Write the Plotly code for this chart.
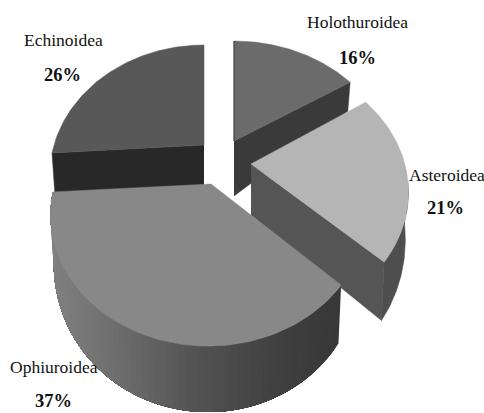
import numpy as np
import plotly.graph_objects as go

categories = ["Holothuroidea", "Asteroidea", "Ophiuroidea", "Echinoidea"]
percent = [16, 21, 37, 26]

# styling per slice (positions of exploded hubs, pixel space of the hidden axes)
hub_x = [234, 251, 211, 204]
hub_y = [141, 164, 184, 145]
rim_cx = [234, 251, 208, 204]
rim_cy = [141, 161, 184, 145]
radius_x = [155, 153, 153, 150]
hub_depth = [55, 51, 50, 40]
top_color = ["#6b6b6b", "#b5b5b5", "#888888", "#585858"]
wall_color = ["#3a3a3a", "#555555", "#444444", "#282828"]
rim_color = ["#3a3a3a", "#4e4e4e", None, "#282828"]
label_xy = [(357, 22), (447, 175), (54, 367), (63, 40)]
pct_xy = [(357, 58), (445, 208), (53, 401), (62, 75)]

A, B = 123.7, 0.237
D0, D1 = 42, 24
SHRINK = 0.98

edges = np.radians(np.concatenate([[0], np.cumsum(percent)]) * 3.6)


def rim(i, th):
    u, v = np.sin(th), np.cos(th)
    den = 1 + B * v
    return rim_cx[i] + radius_x[i] * u / den, rim_cy[i] - A * v / den


def lower(i, th):
    x, y = rim(i, th)
    return rim_cx[i] + (x - rim_cx[i]) * SHRINK, y + D0 - D1 * np.cos(th)


fig = go.Figure()


def poly(xs, ys, color, outline=True):
    fig.add_trace(go.Scatter(x=list(xs), y=list(ys), mode="lines" if outline else "none",
                             fill="toself", fillcolor=color,
                             line=dict(color=color, width=0.5),
                             hoverinfo="skip", showlegend=False))


def grad(x):
    stops_x = [53, 100, 200, 280, 340]
    stops_c = [128, 115, 82, 64, 56]
    g = int(np.interp(x, stops_x, stops_c))
    return f"rgb({g},{g},{g})"


def draw_slice(i, radial_edge):
    a, b = edges[i], edges[i + 1]
    th = np.linspace(a, b, 80)
    if radial_edge is not None:
        e = edges[radial_edge]
        rx, ry = rim(i, e)
        lx, ly = lower(i, e)
        poly([hub_x[i], rx, lx, hub_x[i]], [hub_y[i], ry, ly, hub_y[i] + hub_depth[i]], wall_color[i])
    if rim_color[i] is not None:
        vis = th[np.cos(th) < -0.15]
        if len(vis) > 1:
            xs, ys = rim(i, vis)
            xl, yl = lower(i, vis)
            poly(np.r_[xs, xl[::-1]], np.r_[ys, yl[::-1]], rim_color[i])
    else:
        # painter's order: each strip runs to the slice's far end, the next one covers it
        n = 70
        t = np.linspace(a, b, n + 1)
        for k in range(n):
            tt = np.linspace(t[k], b, max(2, 60 - k))
            xs, ys = rim(i, tt)
            xl, yl = lower(i, tt)
            c = rim(i, (t[k] + t[k + 1]) / 2)[0]
            poly(np.r_[xs, xl[::-1]], np.r_[ys, yl[::-1]], grad(c), outline=False)
    xs, ys = rim(i, th)
    poly(np.r_[hub_x[i], xs, hub_x[i]], np.r_[hub_y[i], ys, hub_y[i]], top_color[i])


draw_slice(3, 3)  # Echinoidea, wall along its first edge
draw_slice(0, 1)  # Holothuroidea
# thin dark side of the Holothuroidea slice along its first edge
x0, y0 = rim(0, edges[0])
fig.add_trace(go.Scatter(x=[x0, hub_x[0]], y=[y0, hub_y[0]], mode="lines",
                         line=dict(color=wall_color[0], width=1),
                         hoverinfo="skip", showlegend=False))
draw_slice(1, 2)  # Asteroidea
draw_slice(2, None)  # Ophiuroidea

for name, p, (lx, ly), (px, py) in zip(categories, percent, label_xy, pct_xy):
    fig.add_annotation(x=lx, y=ly, text=name, showarrow=False,
                       font=dict(family="Liberation Serif", size=17.5, color="#111111"))
    fig.add_annotation(x=px, y=py, text=f"<b>{p}%</b>", showarrow=False,
                       font=dict(family="Liberation Serif", size=18.5, color="#111111"))

fig.update_xaxes(range=[0, 484], visible=False, fixedrange=True)
fig.update_yaxes(range=[413, 0], visible=False, fixedrange=True)
fig.update_layout(width=484, height=413, margin=dict(l=0, r=0, t=0, b=0),
                  paper_bgcolor="white", plot_bgcolor="white", showlegend=False)
fig.write_html("out.html", config={"displayModeBar": False},
               post_script="document.body.style.margin='0';document.documentElement.style.overflow='hidden';")
